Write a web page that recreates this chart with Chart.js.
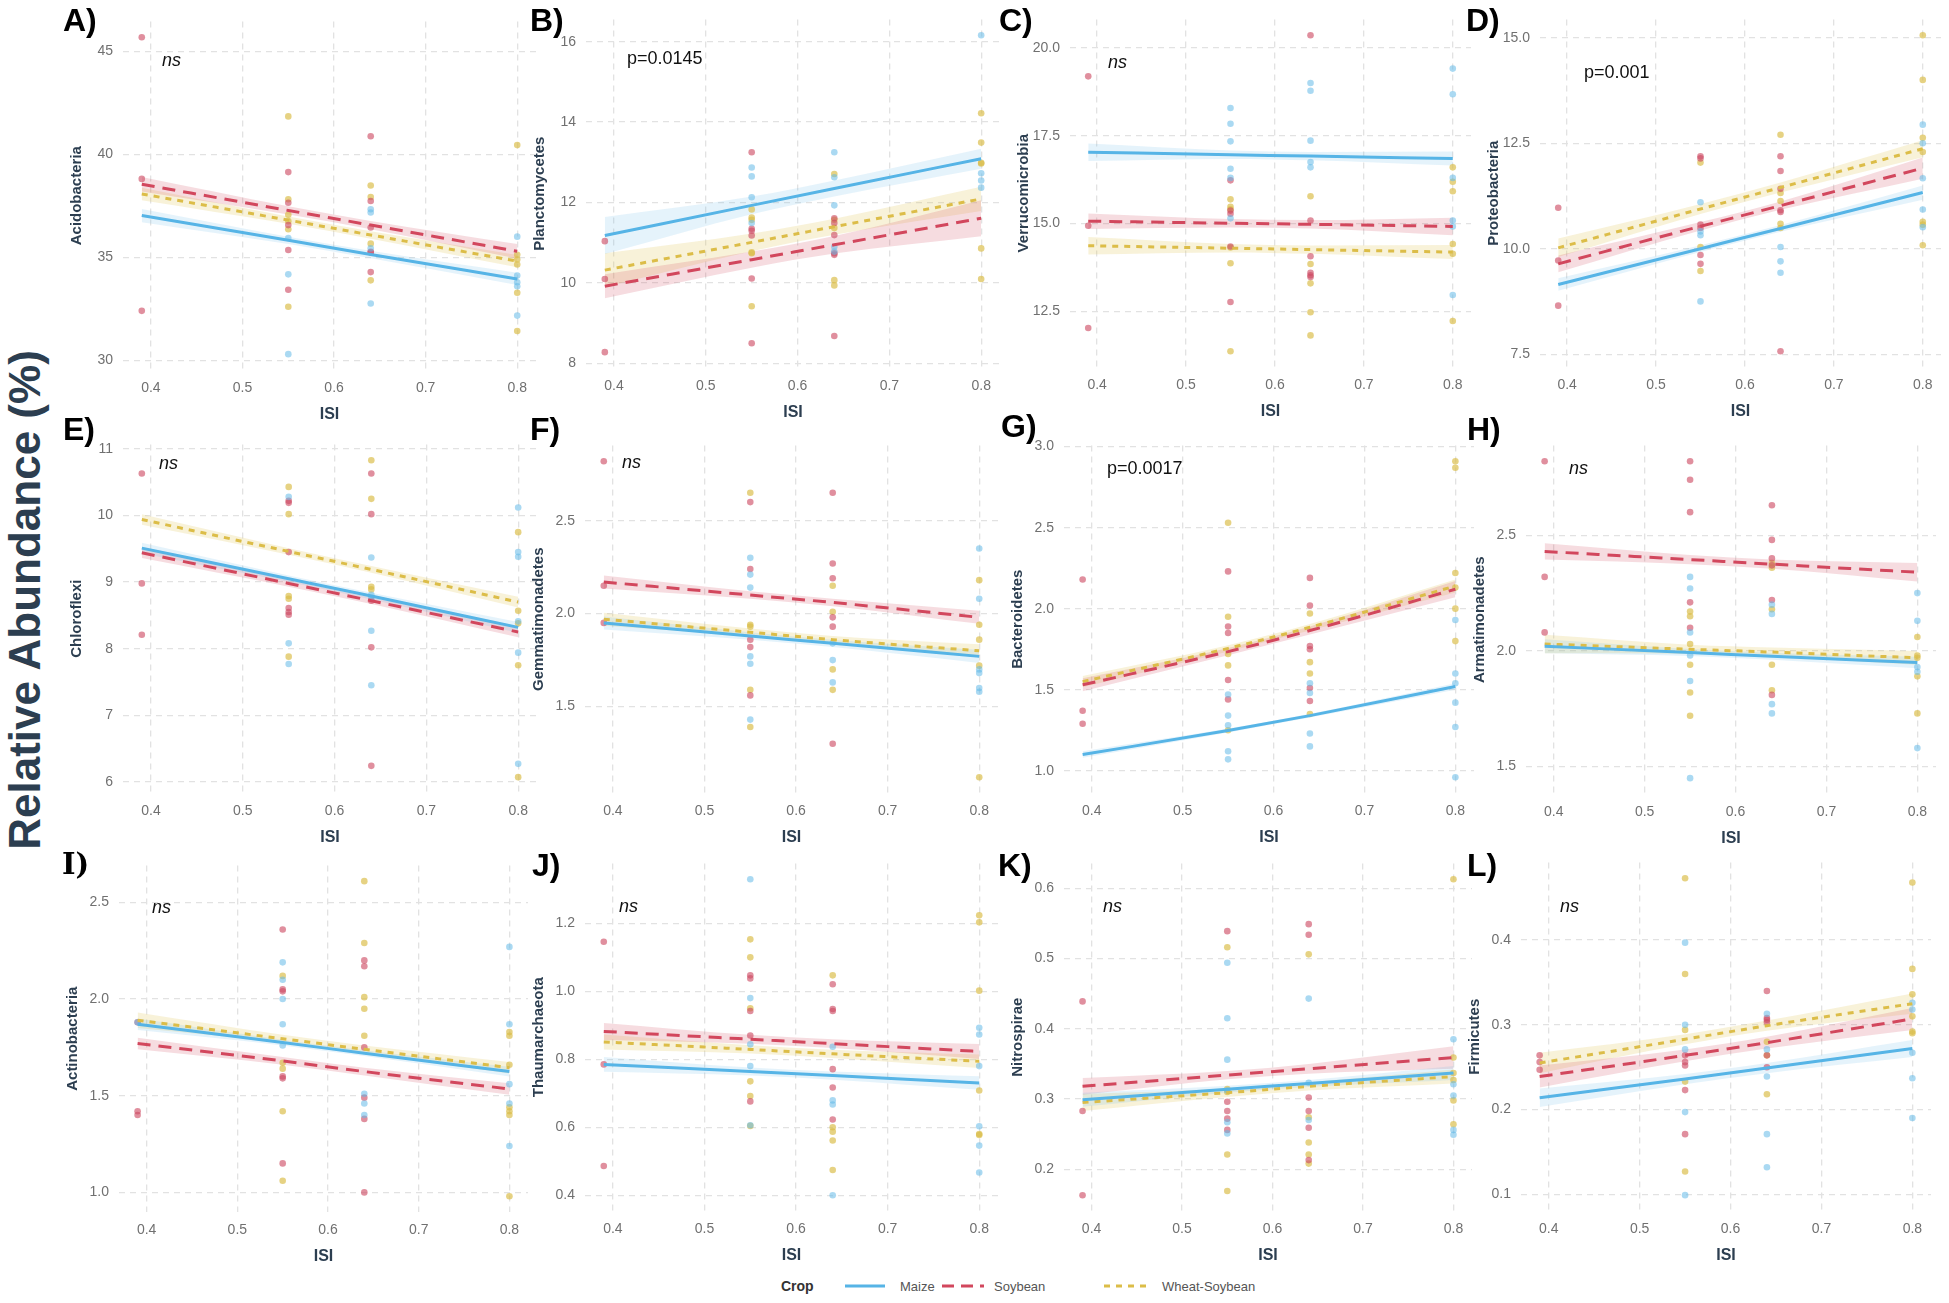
<!DOCTYPE html>
<html lang="en">
<head>
  <meta charset="UTF-8" />
  <title>Relative abundance vs ISI</title>
  <script src="https://cdn.jsdelivr.net/npm/chart.js"></script>
  <style>
    body { margin: 0; background: #fff; font-family: 'Liberation Sans', Arial, sans-serif; }
    #page { position: relative; width: 1949px; height: 1303px; overflow: hidden; background: #fff; }
    canvas { position: absolute; }
    .tag { position: absolute; font-weight: bold; font-size: 32px; line-height: 1; color: #000; }
    .tag.serif { font-family: 'DejaVu Serif', serif; font-size: 29px; }
    .note { position: absolute; font-size: 18px; line-height: 1; color: #111; transform: translateY(-50%); white-space: nowrap; }
    .note.ns { font-style: italic; }
    #ylab { position: absolute; left: 25px; top: 600px; transform: translate(-50%, -50%) rotate(-90deg);
            font-size: 44px; font-weight: bold; color: #2c3e50; white-space: nowrap; }
    .lg { position: absolute; top: 1286px; transform: translateY(-50%); font-size: 13px; color: #555; white-space: nowrap; }
    .lg.title { font-weight: bold; font-size: 14px; color: #333; }
    svg.lg { height: 10px; }
  </style>
</head>
<body>
<div id="page">
  <div id="ylab">Relative Abundance (%)</div>
  <span class="lg title" style="left:781px">Crop</span>
  <svg class="lg" style="left:845px" width="40" height="10"><line x1="0" y1="5" x2="40" y2="5" stroke="#56b4e6" stroke-width="3"/></svg>
  <span class="lg" style="left:900px">Maize</span>
  <svg class="lg" style="left:942px" width="42" height="10"><line x1="0" y1="5" x2="42" y2="5" stroke="#d2475d" stroke-width="3" stroke-dasharray="12 7"/></svg>
  <span class="lg" style="left:994px">Soybean</span>
  <svg class="lg" style="left:1104px" width="42" height="10"><line x1="0" y1="5" x2="42" y2="5" stroke="#dcbd48" stroke-width="3" stroke-dasharray="6 6"/></svg>
  <span class="lg" style="left:1162px">Wheat-Soybean</span>
</div>

<script>
  // ISI levels where the samples sit, x tick labels
  const isiLevels = [0.39, 0.55, 0.64, 0.80];
  const xTickLabels = ['0.4', '0.5', '0.6', '0.7', '0.8'];
  const xRange = [0.3695, 0.8205];
  const crops = ['Maize', 'Soybean', 'Wheat-Soybean'];

  const panelIds = ['A', 'B', 'C', 'D', 'E', 'F', 'G', 'H', 'I', 'J', 'K', 'L'];
  const phyla = ['Acidobacteria', 'Planctomycetes', 'Verrucomicrobia', 'Proteobacteria',
                 'Chloroflexi', 'Gemmatimonadetes', 'Bacteroidetes', 'Armatimonadetes',
                 'Actinobacteria', 'Thaumarchaeota', 'Nitrospirae', 'Firmicutes'];
  const stats = ['ns', 'p=0.0145', 'ns', 'p=0.001', 'ns', 'ns', 'p=0.0017', 'ns', 'ns', 'ns', 'ns', 'ns'];

  // points are grouped per ISI level [0.39, 0.55, 0.64, 0.80]
  // fit / se rows: Maize, Soybean, Wheat-Soybean, values at the same ISI levels

  // A) Acidobacteria
  const A_yTicks = ['30', '35', '40', '45'];
  const A_pts_maize = [[], [35.94, 34.18, 30.31], [37.34, 37.18, 35.44, 32.77], [36.01, 34.12, 33.8, 33.6, 32.18]];
  const A_pts_soy = [[45.68, 38.81, 32.41], [39.14, 37.65, 36.57, 35.36, 33.43], [40.88, 37.74, 36.45, 35.28, 35.24, 34.29], []];
  const A_pts_wheat = [[], [41.84, 37.82, 37.07, 36.76, 36.37, 32.61], [38.49, 37.93, 35.67, 33.89], [40.45, 35.13, 34.9, 34.66, 33.29, 31.43]];
  const A_fit = [[37.03, 35.83, 35.14, 33.96], [38.55, 37.28, 36.57, 35.3], [38.08, 36.81, 36.09, 34.82]];
  const A_se = [[0.32, 0.18, 0.18, 0.3], [0.35, 0.2, 0.2, 0.35], [0.3, 0.18, 0.18, 0.3]];

  // B) Planctomycetes
  const B_yTicks = ['8', '10', '12', '14', '16'];
  const B_pts_maize = [[], [12.87, 12.65, 12.13, 11.49], [13.25, 12.63, 11.93, 10.9, 10.78], [16.16, 12.73, 12.55, 12.37]];
  const B_pts_soy = [[11.04, 10.1, 8.28], [13.25, 11.35, 11.3, 11.18, 10.11, 8.5], [11.61, 11.49, 11.19, 10.74, 10.7, 8.68], []];
  const B_pts_wheat = [[], [11.83, 11.63, 11.57, 10.76, 10.74, 9.42], [12.71, 11.57, 11.37, 10.07, 9.94], [14.22, 13.49, 12.99, 12.97, 10.86, 10.1]];
  const B_fit = [[11.18, 11.93, 12.35, 13.09], [9.92, 10.58, 10.95, 11.61], [10.32, 11.01, 11.4, 12.09]];
  const B_se = [[0.46, 0.22, 0.2, 0.25], [0.3, 0.2, 0.22, 0.45], [0.42, 0.22, 0.2, 0.3]];

  // C) Verrucomicrobia
  const C_yTicks = ['12.5', '15.0', '17.5', '20.0'];
  const C_pts_maize = [[], [18.29, 17.84, 17.34, 16.56, 16.3, 15.15], [19.0, 18.78, 17.36, 16.75, 16.6], [19.41, 18.68, 16.3, 15.09, 14.92, 12.97]];
  const C_pts_soy = [[19.19, 14.94, 12.03], [16.23, 15.37, 15.28, 14.35, 12.77], [20.36, 15.09, 14.07, 13.6, 13.53, 13.48], []];
  const C_pts_wheat = [[], [15.69, 15.48, 15.41, 14.32, 13.87, 11.37], [15.78, 13.85, 13.3, 12.48, 11.82], [16.6, 16.19, 15.92, 14.42, 14.14, 12.23]];
  const C_fit = [[17.03, 16.96, 16.92, 16.85], [15.07, 15.01, 14.98, 14.92], [14.37, 14.3, 14.26, 14.19]];
  const C_se = [[0.25, 0.12, 0.12, 0.2], [0.22, 0.12, 0.12, 0.25], [0.25, 0.12, 0.12, 0.2]];

  // D) Proteobacteria
  const D_yTicks = ['7.5', '10.0', '12.5', '15.0'];
  const D_pts_maize = [[], [11.1, 10.41, 10.32, 8.75], [10.04, 9.7, 9.43], [12.94, 12.5, 11.67, 10.93, 10.51]];
  const D_pts_soy = [[10.97, 9.72, 8.65], [12.19, 12.14, 10.57, 10.49, 9.85, 9.64], [12.19, 11.84, 11.42, 10.91, 10.87, 7.57], []];
  const D_pts_wheat = [[], [12.04, 10.04, 9.47], [12.7, 11.32, 11.13, 10.59, 10.49], [15.06, 14.0, 12.63, 12.29, 10.64, 10.57, 10.08]];
  const D_fit = [[9.15, 10.0, 10.48, 11.33], [9.64, 10.53, 11.02, 11.91], [10.02, 10.94, 11.45, 12.37]];
  const D_se = [[0.15, 0.08, 0.08, 0.17], [0.2, 0.1, 0.1, 0.25], [0.22, 0.12, 0.12, 0.2]];

  // E) Chloroflexi
  const E_yTicks = ['6', '7', '8', '9', '10', '11'];
  const E_pts_maize = [[], [10.28, 8.08, 7.77], [9.37, 8.81, 8.76, 8.27, 7.45], [10.12, 9.45, 9.38, 8.41, 7.94, 6.27]];
  const E_pts_soy = [[10.63, 8.98, 8.21], [10.22, 10.19, 9.45, 8.61, 8.55, 8.51], [10.63, 10.02, 8.72, 8.02, 6.24], []];
  const E_pts_wheat = [[], [10.43, 10.02, 8.79, 8.75, 7.88], [10.83, 10.25, 8.93, 8.89], [9.75, 8.57, 8.38, 7.75, 6.07]];
  const E_fit = [[9.51, 9.05, 8.79, 8.32], [9.44, 8.98, 8.72, 8.25], [9.94, 9.46, 9.19, 8.7]];
  const E_se = [[0.08, 0.05, 0.05, 0.08], [0.08, 0.05, 0.05, 0.08], [0.08, 0.05, 0.05, 0.08]];

  // F) Gemmatimonadetes
  const F_yTicks = ['1.5', '2.0', '2.5'];
  const F_pts_maize = [[], [2.3, 2.21, 2.14, 1.77, 1.73, 1.43], [1.84, 1.75, 1.63], [2.35, 2.08, 1.7, 1.68, 1.6, 1.58]];
  const F_pts_soy = [[2.82, 2.15, 1.95], [2.6, 2.24, 1.86, 1.82, 1.56], [2.65, 2.27, 2.19, 1.98, 1.93, 1.3], []];
  const F_pts_wheat = [[], [2.65, 1.94, 1.93, 1.59, 1.39], [2.15, 2.01, 1.7, 1.59], [2.18, 1.94, 1.86, 1.72, 1.12]];
  const F_fit = [[1.95, 1.88, 1.84, 1.77], [2.17, 2.1, 2.06, 1.98], [1.97, 1.9, 1.86, 1.8]];
  const F_se = [[0.035, 0.02, 0.02, 0.035], [0.035, 0.02, 0.02, 0.035], [0.035, 0.02, 0.02, 0.035]];

  // G) Bacteroidetes
  const G_yTicks = ['1.0', '1.5', '2.0', '2.5', '3.0'];
  const G_pts_maize = [[], [1.47, 1.34, 1.28, 1.12, 1.07], [1.54, 1.48, 1.23, 1.15], [1.93, 1.6, 1.54, 1.42, 1.27, 0.96]];
  const G_pts_soy = [[2.18, 1.37, 1.29], [2.23, 1.89, 1.85, 1.56, 1.44], [2.19, 2.02, 1.77, 1.75, 1.51, 1.43], []];
  const G_pts_wheat = [[], [2.53, 1.95, 1.72, 1.65, 1.25], [1.97, 1.67, 1.6, 1.35], [2.91, 2.87, 2.22, 2.13, 2.0, 1.8]];
  const G_fit = [[1.1, 1.248, 1.34, 1.52], [1.53, 1.735, 1.865, 2.12], [1.55, 1.755, 1.885, 2.14]];
  const G_se = [[0.02, 0.012, 0.012, 0.02], [0.04, 0.022, 0.025, 0.05], [0.035, 0.02, 0.02, 0.04]];

  // H) Armatimonadetes
  const H_yTicks = ['1.5', '2.0', '2.5'];
  const H_pts_maize = [[], [2.32, 2.27, 2.08, 1.98, 1.87, 1.45], [2.2, 2.16, 1.77, 1.73], [2.25, 2.13, 1.93, 1.91, 1.58]];
  const H_pts_soy = [[2.82, 2.32, 2.08], [2.82, 2.74, 2.6, 2.21, 2.1], [2.63, 2.48, 2.4, 2.37, 2.22, 1.81], []];
  const H_pts_wheat = [[], [2.17, 2.15, 2.03, 1.94, 1.82, 1.72], [2.38, 2.36, 2.18, 1.94, 1.83], [2.06, 1.98, 1.97, 1.89, 1.73]];
  const H_fit = [[2.02, 1.993, 1.977, 1.95], [2.43, 2.395, 2.375, 2.34], [2.03, 2.007, 1.995, 1.97]];
  const H_se = [[0.03, 0.015, 0.015, 0.025], [0.035, 0.02, 0.02, 0.04], [0.04, 0.02, 0.02, 0.03]];

  // I) Actinobacteria
  const I_yTicks = ['1.0', '1.5', '2.0', '2.5'];
  const I_pts_maize = [[1.88], [2.19, 2.1, 2.0, 1.87, 1.76], [1.51, 1.46, 1.4], [2.27, 1.87, 1.56, 1.46, 1.24]];
  const I_pts_soy = [[1.88, 1.42, 1.4], [2.36, 2.05, 2.04, 1.6, 1.59, 1.15], [2.2, 2.17, 1.75, 1.49, 1.38, 1.0], []];
  const I_pts_wheat = [[], [2.12, 1.67, 1.64, 1.42, 1.06], [2.61, 2.29, 2.01, 1.95, 1.81], [1.83, 1.81, 1.66, 1.44, 1.42, 1.4, 0.98]];
  const I_fit = [[1.87, 1.775, 1.72, 1.625], [1.77, 1.68, 1.625, 1.535], [1.89, 1.795, 1.74, 1.645]];
  const I_se = [[0.03, 0.015, 0.015, 0.025], [0.03, 0.02, 0.02, 0.03], [0.04, 0.02, 0.02, 0.03]];

  // J) Thaumarchaeota
  const J_yTicks = ['0.4', '0.6', '0.8', '1.0', '1.2'];
  const J_pts_maize = [[], [1.33, 0.98, 0.844, 0.78, 0.606], [0.837, 0.679, 0.667, 0.4], [0.893, 0.873, 0.78, 0.603, 0.546, 0.467]];
  const J_pts_soy = [[1.146, 0.785, 0.486], [1.047, 1.038, 0.942, 0.87, 0.676], [1.021, 0.948, 0.942, 0.771, 0.717, 0.623], []];
  const J_pts_wheat = [[], [1.153, 1.1, 0.95, 0.735, 0.692, 0.604], [1.047, 0.6, 0.587, 0.561, 0.474], [1.224, 1.203, 1.002, 0.708, 0.58, 0.577]];
  const J_fit = [[0.785, 0.764, 0.752, 0.73], [0.882, 0.859, 0.846, 0.823], [0.851, 0.829, 0.816, 0.794]];
  const J_se = [[0.022, 0.012, 0.012, 0.02], [0.025, 0.013, 0.013, 0.022], [0.022, 0.012, 0.012, 0.02]];

  // K) Nitrospirae
  const K_yTicks = ['0.2', '0.3', '0.4', '0.5', '0.6'];
  const K_pts_maize = [[], [0.494, 0.415, 0.356, 0.312, 0.267, 0.251], [0.443, 0.323, 0.27], [0.385, 0.321, 0.305, 0.256, 0.249]];
  const K_pts_soy = [[0.439, 0.283, 0.163], [0.539, 0.296, 0.283, 0.272, 0.256], [0.549, 0.534, 0.302, 0.283, 0.259, 0.213], []];
  const K_pts_wheat = [[], [0.516, 0.314, 0.31, 0.221, 0.169], [0.506, 0.274, 0.238, 0.221, 0.208], [0.613, 0.359, 0.337, 0.327, 0.298, 0.264]];
  const K_fit = [[0.299, 0.314, 0.322, 0.337], [0.318, 0.334, 0.343, 0.359], [0.295, 0.309, 0.318, 0.332]];
  const K_se = [[0.01, 0.005, 0.005, 0.01], [0.012, 0.006, 0.007, 0.016], [0.012, 0.006, 0.006, 0.01]];

  // L) Firmicutes
  const L_yTicks = ['0.1', '0.2', '0.3', '0.4'];
  const L_pts_maize = [[], [0.397, 0.3, 0.271, 0.197, 0.099], [0.313, 0.271, 0.239, 0.171, 0.132], [0.326, 0.318, 0.267, 0.237, 0.19]];
  const L_pts_soy = [[0.264, 0.256, 0.247], [0.264, 0.256, 0.252, 0.223, 0.171], [0.34, 0.308, 0.306, 0.303, 0.264, 0.25], []];
  const L_pts_wheat = [[], [0.473, 0.36, 0.294, 0.233, 0.127], [0.28, 0.264, 0.218], [0.468, 0.366, 0.336, 0.31, 0.292, 0.29]];
  const L_fit = [[0.214, 0.236, 0.249, 0.272], [0.239, 0.264, 0.279, 0.307], [0.255, 0.283, 0.299, 0.325]];
  const L_se = [[0.011, 0.006, 0.006, 0.01], [0.013, 0.007, 0.007, 0.013], [0.012, 0.006, 0.006, 0.012]];

  // layout: plot area [left, top, width, height], panel tag [left, top], note [left, centerY]
  const plotRects = [[123, 7, 413, 363], [586, 5, 414, 363], [1070, 5, 401, 362], [1540, 5, 401, 362],
                     [123, 430, 414, 363], [585, 431, 413, 362], [1064, 431, 410, 362], [1526, 431, 410, 363],
                     [119, 851, 409, 361], [585, 849, 413, 362], [1064, 849, 408, 362], [1521, 848, 410, 363]];
  const tagPos = [[63, 4], [530, 4], [999, 4], [1466, 4], [63, 413], [530, 413], [1001, 410], [1467, 413],
                  [62, 850], [532, 849], [998, 849], [1467, 849]];
  const notePos = [[162, 60], [627, 58], [1108, 62], [1584, 72], [159, 463], [622, 462], [1107, 468], [1569, 468],
                   [152, 907], [619, 906], [1103, 906], [1560, 906]];

  const lineColors = ['#56b4e6', '#d2475d', '#dcbd48'];
  const pointColors = ['rgba(100,185,232,0.55)', 'rgba(205,75,98,0.62)', 'rgba(218,188,72,0.68)'];
  const bandColors = ['rgba(100,185,232,0.17)', 'rgba(210,80,100,0.2)', 'rgba(222,195,80,0.22)'];
  const dashes = [[], [13, 8], [6, 6]];
  const tickColor = '#707070';
  const titleColor = '#2c3e50';
  const gridColor = '#e2e2e2';

  Chart.defaults.font.family = "'Liberation Sans', Arial, sans-serif";

  const panels = [
    [A_pts_maize, A_pts_soy, A_pts_wheat, A_fit, A_se, A_yTicks],
    [B_pts_maize, B_pts_soy, B_pts_wheat, B_fit, B_se, B_yTicks],
    [C_pts_maize, C_pts_soy, C_pts_wheat, C_fit, C_se, C_yTicks],
    [D_pts_maize, D_pts_soy, D_pts_wheat, D_fit, D_se, D_yTicks],
    [E_pts_maize, E_pts_soy, E_pts_wheat, E_fit, E_se, E_yTicks],
    [F_pts_maize, F_pts_soy, F_pts_wheat, F_fit, F_se, F_yTicks],
    [G_pts_maize, G_pts_soy, G_pts_wheat, G_fit, G_se, G_yTicks],
    [H_pts_maize, H_pts_soy, H_pts_wheat, H_fit, H_se, H_yTicks],
    [I_pts_maize, I_pts_soy, I_pts_wheat, I_fit, I_se, I_yTicks],
    [J_pts_maize, J_pts_soy, J_pts_wheat, J_fit, J_se, J_yTicks],
    [K_pts_maize, K_pts_soy, K_pts_wheat, K_fit, K_se, K_yTicks],
    [L_pts_maize, L_pts_soy, L_pts_wheat, L_fit, L_se, L_yTicks]
  ];

  const page = document.getElementById('page');
  const Y_AXIS_W = 62, X_AXIS_H = 60, PAD_T = 4, PAD_R = 6;

  function toPoints(groups) {
    const out = [];
    groups.forEach((ys, i) => ys.forEach(y => out.push({ x: isiLevels[i], y })));
    return out;
  }

  function yLimits(ptsList, fit, se) {
    const vals = [];
    ptsList.forEach(g => g.forEach(lvl => vals.push(...lvl)));
    fit.forEach((f, c) => f.forEach((v, i) => vals.push(v + se[c][i], v - se[c][i])));
    const lo = Math.min(...vals), hi = Math.max(...vals);
    const pad = (hi - lo) * 0.05;
    return [lo - pad, hi + pad];
  }

  panels.forEach((p, k) => {
    const ptsList = p.slice(0, 3), fit = p[3], se = p[4], yTicks = p[5];
    const [pl, pt, pw, ph] = plotRects[k];

    const canvas = document.createElement('canvas');
    canvas.width = pw + Y_AXIS_W + PAD_R;
    canvas.height = ph + X_AXIS_H + PAD_T;
    canvas.style.left = (pl - Y_AXIS_W) + 'px';
    canvas.style.top = (pt - PAD_T) + 'px';
    page.appendChild(canvas);

    const datasets = [];
    crops.forEach((crop, c) => {
      datasets.push({
        type: 'line', label: crop + ' upper',
        data: isiLevels.map((x, i) => ({ x, y: fit[c][i] + se[c][i] })),
        borderColor: 'rgba(0,0,0,0)', borderWidth: 0, pointRadius: 0,
        cubicInterpolationMode: 'monotone', fill: false, order: 3
      });
      datasets.push({
        type: 'line', label: crop + ' lower',
        data: isiLevels.map((x, i) => ({ x, y: fit[c][i] - se[c][i] })),
        borderColor: 'rgba(0,0,0,0)', borderWidth: 0, pointRadius: 0,
        cubicInterpolationMode: 'monotone', fill: '-1', backgroundColor: bandColors[c], order: 3
      });
    });
    crops.forEach((crop, c) => {
      datasets.push({
        type: 'scatter', label: crop,
        data: toPoints(ptsList[c]),
        backgroundColor: pointColors[c], borderWidth: 0, pointRadius: 3.3, order: 2
      });
    });
    crops.forEach((crop, c) => {
      datasets.push({
        type: 'line', label: crop + ' fit',
        data: isiLevels.map((x, i) => ({ x, y: fit[c][i] })),
        borderColor: lineColors[c], borderWidth: 3, borderDash: dashes[c],
        pointRadius: 0, cubicInterpolationMode: 'monotone', fill: false, order: 1
      });
    });

    const [ymin, ymax] = yLimits(ptsList, fit, se);

    new Chart(canvas, {
      type: 'scatter',
      data: { datasets },
      options: {
        responsive: false,
        animation: false,
        layout: { autoPadding: false, padding: { top: PAD_T, right: PAD_R, left: 0, bottom: 0 } },
        plugins: { legend: { display: false }, tooltip: { enabled: false } },
        scales: {
          x: {
            type: 'linear', min: xRange[0], max: xRange[1],
            afterBuildTicks: s => { s.ticks = xTickLabels.map(t => ({ value: Number(t) })); },
            afterFit: s => { s.height = X_AXIS_H; },
            ticks: { callback: (v, i) => xTickLabels[i], color: tickColor, font: { size: 14 }, padding: 10, maxRotation: 0 },
            grid: { color: gridColor, lineWidth: 1.3, drawTicks: false },
            border: { display: false, dash: [6, 5] },
            title: { display: true, text: 'ISI', color: titleColor, font: { size: 16, weight: 'bold' }, padding: { top: 0, bottom: 6 } }
          },
          y: {
            type: 'linear', min: ymin, max: ymax,
            afterBuildTicks: s => { s.ticks = yTicks.map(t => ({ value: Number(t) })); },
            afterFit: s => { s.width = Y_AXIS_W; },
            ticks: { callback: (v, i) => yTicks[i], color: tickColor, font: { size: 14 }, padding: 10 },
            grid: { color: gridColor, lineWidth: 1.3, drawTicks: false },
            border: { display: false, dash: [6, 5] },
            title: { display: true, text: phyla[k], color: titleColor, font: { size: 15, weight: 'bold' }, padding: { top: 7, bottom: 0 } }
          }
        }
      }
    });

    const tag = document.createElement('div');
    tag.className = 'tag' + (panelIds[k] === 'I' ? ' serif' : '');
    tag.textContent = panelIds[k] + ')';
    tag.style.left = tagPos[k][0] + 'px';
    tag.style.top = tagPos[k][1] + 'px';
    page.appendChild(tag);

    const note = document.createElement('div');
    note.className = 'note' + (stats[k] === 'ns' ? ' ns' : '');
    note.textContent = stats[k];
    note.style.left = notePos[k][0] + 'px';
    note.style.top = notePos[k][1] + 'px';
    page.appendChild(note);
  });
</script>
</body>
</html>
